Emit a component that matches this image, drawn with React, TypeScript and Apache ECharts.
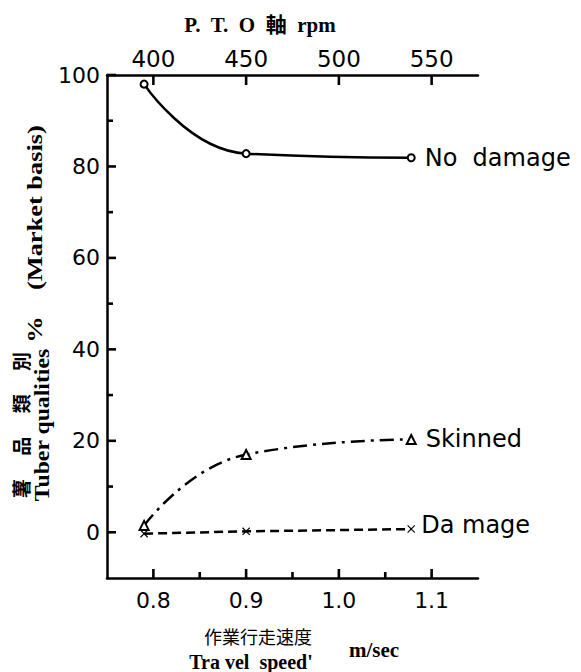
import React, { useEffect, useRef } from "react";
import * as echarts from "echarts";

// Travel speed (m/sec) of the three measured points
const speeds = [0.79, 0.9, 1.078];
// Tuber qualities, % (market basis)
const noDamage = [98, 82.8, 81.9];
const skinned = [1.5, 17.0, 20.3];
const damage = [-0.3, 0.2, 0.7];

const seriesNames = ["No  damage", "Skinned", "Da mage"];

// axis ticks
const yMajorTicks = [0, 20, 40, 60, 80, 100];
const yMinorTicks = [10, 30, 50, 70, 90];
const xMajorTicks = [0.8, 0.9, 1.0, 1.1];
const xMinorTicks = [0.85, 0.95, 1.05];
const rpmTicks = [400, 450, 500, 550];

// axis ranges
const X_MIN = 0.75;
const X_MAX = 1.15;
const RPM_MIN = 375;
const RPM_MAX = 575;
const Y_MIN = -10;
const Y_MAX = 100;

// layout (pixels)
const W = 581;
const H = 672;
const PLOT_L = 107;
const PLOT_R = 478;
const PLOT_T = 75;
const PLOT_B = 578;
const TICK_W = 2.6;
const TICK_COLOR = "#000";

const SANS = '"DejaVu Sans", "Liberation Sans", sans-serif';
const SERIF = '"Liberation Serif", "Noto Sans CJK JP", serif';
const CJK = '"Noto Sans CJK JP", "Noto Sans CJK SC", sans-serif';

const X_CROSS = "path://M0,1L1,0L5,4L9,0L10,1L6,5L10,9L9,10L5,6L1,10L0,9L4,5Z";

function pts(vals: number[], name: string, offset: number[]) {
  return vals.map((v, i) =>
    i === vals.length - 1
      ? {
          value: [speeds[i], v],
          label: {
            show: true,
            position: "right",
            distance: 9,
            offset,
            formatter: name,
            color: "#000",
            fontFamily: SANS,
            fontSize: 24,
          },
        }
      : { value: [speeds[i], v] }
  );
}

type TickDef = { vals: number[]; side: "left" | "bottom" | "top"; len: number };
const tickDefs: TickDef[] = [
  { vals: yMajorTicks, side: "left", len: 9 },
  { vals: yMinorTicks, side: "left", len: 6 },
  { vals: xMajorTicks, side: "bottom", len: 9 },
  { vals: xMinorTicks, side: "bottom", len: 6 },
  { vals: rpmTicks, side: "top", len: 10 },
];

export default function App() {
  const ref = useRef<HTMLDivElement>(null);
  useEffect(() => {
    if (!ref.current) return;
    const chart = echarts.init(ref.current, undefined, { renderer: "svg" });
    const lineBlack = { color: "#000", width: 2.5 };
    const axisLine = { show: true, onZero: false, lineStyle: lineBlack };
    const tickLabel = { color: "#000", fontFamily: SANS, fontSize: 22 };

    const txt = (text: string, x: number, y: number, font: string, extra: any = {}) => ({
      type: "text",
      x,
      y,
      ...extra,
      style: { text, font, fill: "#000", align: "center", verticalAlign: "middle" },
    });

    const texts: any[] = [
      txt("P.  T.  O  軸  rpm", 260, 25, `bold 21px ${SERIF}`),
      txt("薯\u3000 品\u3000 類\u3000 別", 20, 425, `bold 19px ${CJK}`, { rotation: Math.PI / 2 }),
      txt("Tuber qualities", 42, 425, `bold 22px ${SERIF}`, { rotation: Math.PI / 2, scaleX: 1.08 }),
      txt("%    (Market basis)", 34, 234, `bold 22px ${SERIF}`, { rotation: Math.PI / 2, scaleX: 1.2 }),
      txt("作業行走速度", 258, 636, `18px ${CJK}`),
      txt("Tra vel  speed'", 251, 662, `bold 20px ${SERIF}`),
      txt("m/sec", 374, 650, `bold 21px ${SERIF}`),
    ];

    const option: any = {
      animation: false,
      backgroundColor: "#fff",
      grid: { left: PLOT_L, right: W - PLOT_R, top: PLOT_T, bottom: H - PLOT_B },
      xAxis: [
        {
          type: "value",
          position: "bottom",
          min: X_MIN,
          max: X_MAX,
          axisLine,
          splitLine: { show: false },
          axisTick: { show: false },
          axisLabel: {
            ...tickLabel,
            customValues: xMajorTicks,
            margin: 11,
            formatter: (v: number) => v.toFixed(1),
          },
        },
        {
          type: "value",
          position: "top",
          min: RPM_MIN,
          max: RPM_MAX,
          axisLine,
          splitLine: { show: false },
          axisTick: { show: false },
          axisLabel: { ...tickLabel, fontSize: 23, customValues: rpmTicks, margin: 5 },
        },
      ],
      yAxis: [
        {
          type: "value",
          position: "left",
          min: Y_MIN,
          max: Y_MAX,
          axisLine,
          splitLine: { show: false },
          axisTick: { show: false },
          axisLabel: { ...tickLabel, customValues: yMajorTicks, margin: 7 },
        },
      ],
      series: [
        {
          // inside axis ticks drawn through the axes' own scales
          type: "custom",
          xAxisIndex: 0,
          yAxisIndex: 0,
          clip: false,
          silent: true,
          z: 10,
          data: tickDefs.flatMap((d, i) =>
            d.side === "top" ? [] : d.vals.map((v) => [d.side === "left" ? X_MIN : v, d.side === "left" ? v : Y_MIN, i])
          ),
          renderItem: (params: any, api: any) => {
            const def = tickDefs[api.value(2)];
            const p = api.coord([api.value(0), api.value(1)]);
            const dx = def.side === "left" ? def.len : 0;
            const dy = def.side === "bottom" ? -def.len : 0;
            return {
              type: "line",
              shape: { x1: p[0], y1: p[1], x2: p[0] + dx, y2: p[1] + dy },
              style: { stroke: TICK_COLOR, lineWidth: TICK_W },
            };
          },
        },
        {
          type: "custom",
          xAxisIndex: 1,
          yAxisIndex: 0,
          clip: false,
          silent: true,
          z: 10,
          data: rpmTicks.map((v) => [v, Y_MAX]),
          renderItem: (params: any, api: any) => {
            const p = api.coord([api.value(0), api.value(1)]);
            return {
              type: "line",
              shape: { x1: p[0], y1: p[1], x2: p[0], y2: p[1] + 10 },
              style: { stroke: TICK_COLOR, lineWidth: TICK_W },
            };
          },
        },
        {
          name: seriesNames[0],
          type: "line",
          xAxisIndex: 0,
          yAxisIndex: 0,
          smooth: 0.5,
          data: pts(noDamage, seriesNames[0], [0, 0]),
          symbol: "emptyCircle",
          symbolSize: 7,
          lineStyle: lineBlack,
          itemStyle: { color: "#000", borderWidth: 2 },
        },
        {
          name: seriesNames[1],
          type: "line",
          xAxisIndex: 0,
          yAxisIndex: 0,
          smooth: 0.5,
          data: pts(skinned, seriesNames[1], [0, 0]),
          symbol: "emptyTriangle",
          symbolSize: 9,
          lineStyle: { ...lineBlack, type: [14, 6, 3, 6] },
          itemStyle: { color: "#000", borderWidth: 2 },
        },
        {
          name: seriesNames[2],
          type: "line",
          xAxisIndex: 0,
          yAxisIndex: 0,
          data: pts(damage, seriesNames[2], [-3, -4]),
          symbol: X_CROSS,
          symbolSize: 8,
          lineStyle: { ...lineBlack, type: [9, 5] },
          itemStyle: { color: "#000", borderWidth: 0 },
        },
      ],
      graphic: texts,
    };
    chart.setOption(option);
    return () => chart.dispose();
  }, []);
  return (
    <div
      ref={ref}
      style={{ position: "fixed", left: 0, top: 0, width: W, height: H, background: "#fff" }}
    />
  );
}
